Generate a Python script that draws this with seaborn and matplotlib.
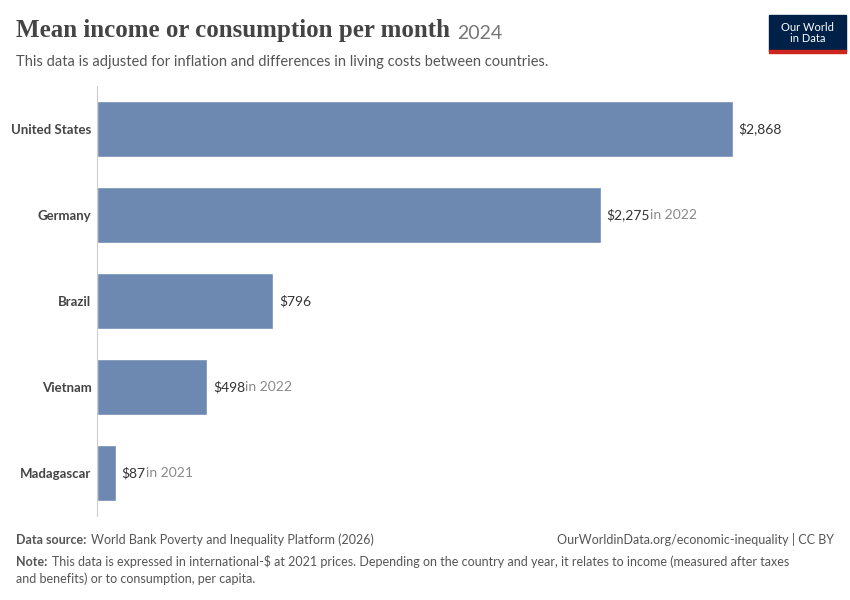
import matplotlib
matplotlib.use("Agg")
import matplotlib.pyplot as plt
import seaborn as sns
import pandas as pd

countries = ["United States", "Germany", "Brazil", "Vietnam", "Madagascar"]
values = [2868, 2275, 796, 498, 87]
value_labels = ["$2,868", "$2,275", "$796", "$498", "$87"]
year_notes = ["", "in 2022", "", "in 2022", "in 2021"]

sns.set_style("white")
plt.rcParams["font.family"] = ["Lato", "DejaVu Sans"]

df = pd.DataFrame({"country": countries, "value": values})

fig = plt.figure(figsize=(8.5, 6), dpi=100)
ax = fig.add_axes([0.114, 0.14, 0.748, 0.717])
sns.barplot(data=df, x="value", y="country", color="#6d88b1", width=0.65,
            saturation=1, ax=ax)
ax.set_xlim(0, 2868)
ax.set_ylim(4.5, -0.5)
ax.set_xlabel("")
ax.set_ylabel("")
ax.set_xticks([])
for s in ["top", "right", "bottom"]:
    ax.spines[s].set_visible(False)
ax.spines["left"].set_color("#cccccc")
ax.tick_params(axis="y", length=0, pad=4)
for lbl in ax.get_yticklabels():
    lbl.set_fontsize(9.5)
    lbl.set_fontweight("bold")
    lbl.set_color("#444444")

for i, (v, lab, note) in enumerate(zip(values, value_labels, year_notes)):
    t = ax.annotate(lab, (v, i), xytext=(4, 0), textcoords="offset points",
                    va="center", ha="left", fontsize=10, color="#333333",
                    annotation_clip=False)
    if note:
        ax.annotate(note, xy=(1, 0.5), xycoords=t, va="center", ha="left",
                    fontsize=10, color="#8a8a8a")

title = fig.text(0.019, 0.93, "Mean income or consumption per month", fontsize=18,
                 fontweight="bold", color="#444444", family=["Liberation Serif"],
                 va="bottom")
ax.annotate("2024", xy=(1, 0), xycoords=title, xytext=(5, 0), textcoords="offset points",
            fontsize=14, color="#777777", va="bottom", ha="left", annotation_clip=False)
fig.text(0.019, 0.89, "This data is adjusted for inflation and differences in living costs between countries.",
         fontsize=10.5, color="#555555", va="baseline")

# logo
fig.patches.append(plt.Rectangle((0.905, 0.915), 0.09, 0.06, transform=fig.transFigure,
                                 color="#002147"))
fig.patches.append(plt.Rectangle((0.905, 0.912), 0.09, 0.004, transform=fig.transFigure,
                                 color="#ce261e"))
fig.text(0.95, 0.945, "Our World\nin Data", fontsize=8, color="white", ha="center",
         va="center", linespacing=1.0)

src = fig.text(0.019, 0.09, "Data source:", fontsize=9, fontweight="bold", color="#555555",
               va="bottom")
ax.annotate("World Bank Poverty and Inequality Platform (2026)", xy=(1, 0), xycoords=src,
            xytext=(3, 0), textcoords="offset points", fontsize=9, color="#555555",
            va="bottom", annotation_clip=False)
fig.text(0.981, 0.09, "OurWorldinData.org/economic-inequality | CC BY", fontsize=9,
         color="#555555", ha="right", va="bottom")
note = fig.text(0.019, 0.053, "Note:", fontsize=9, fontweight="bold", color="#555555",
                va="bottom")
ax.annotate("This data is expressed in international-$ at 2021 prices. Depending on the country and year, it relates to income (measured after taxes",
            xy=(1, 0), xycoords=note, xytext=(3, 0), textcoords="offset points",
            fontsize=9, color="#555555", va="bottom", annotation_clip=False)
fig.text(0.019, 0.025, "and benefits) or to consumption, per capita.", fontsize=9,
         color="#555555", va="bottom")

fig.savefig("out.png", dpi=100)
